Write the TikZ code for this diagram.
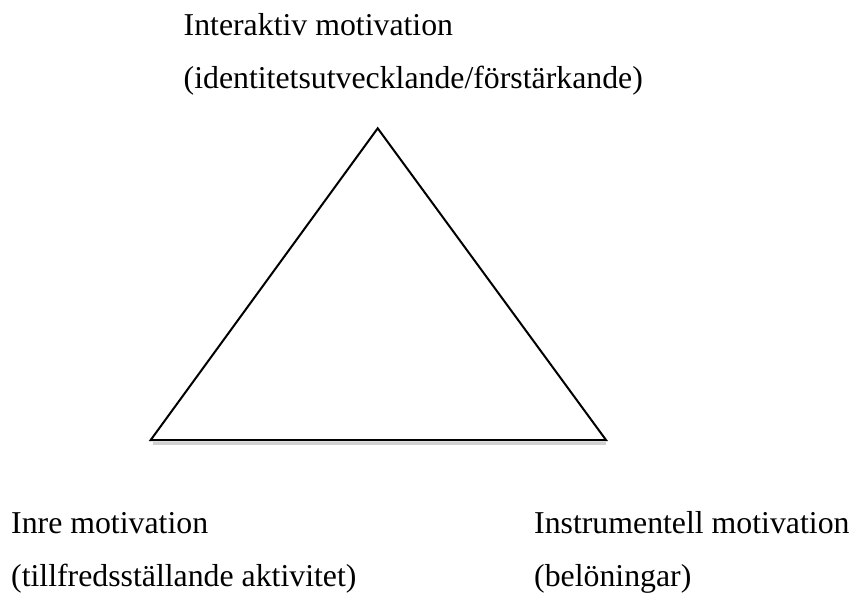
\documentclass[tikz,border=0pt]{standalone}
\usepackage{fontspec}
\setmainfont{Liberation Serif}
\usetikzlibrary{positioning, calc}

\begin{document}
\begin{tikzpicture}[
    x=1pt, y=-1pt,
    label/.style={align=left, inner sep=0pt, anchor=base west, font=\fontsize{31.8}{53}\selectfont},
    edge/.style={line width=2pt, line join=miter, black},
    shadow/.style={line width=2.5pt, black!18}
  ]
    \useasboundingbox (0,0) rectangle (851,593);
    \coordinate (apex) at (377.7,128.3);
    \coordinate (left) at (150.7,440);
    \coordinate (right) at (606,440);
    \draw[shadow] ($(left)+(2,3.5)$) -- ($(right)+(0,3.5)$);
    \draw[edge] (left) -- (apex) -- (right) -- cycle;
    \node[label] (inter) at (183.5,89)
    {Interaktiv motivation\\(identitetsutvecklande/förstärkande)};
    \node[label] (inre) at (11,586)
    {Inre motivation\\(tillfredsställande aktivitet)};
    \node[label] (instr) at (534,586)
    {Instrumentell motivation\\(belöningar)};
  \end{tikzpicture}
\end{document}
